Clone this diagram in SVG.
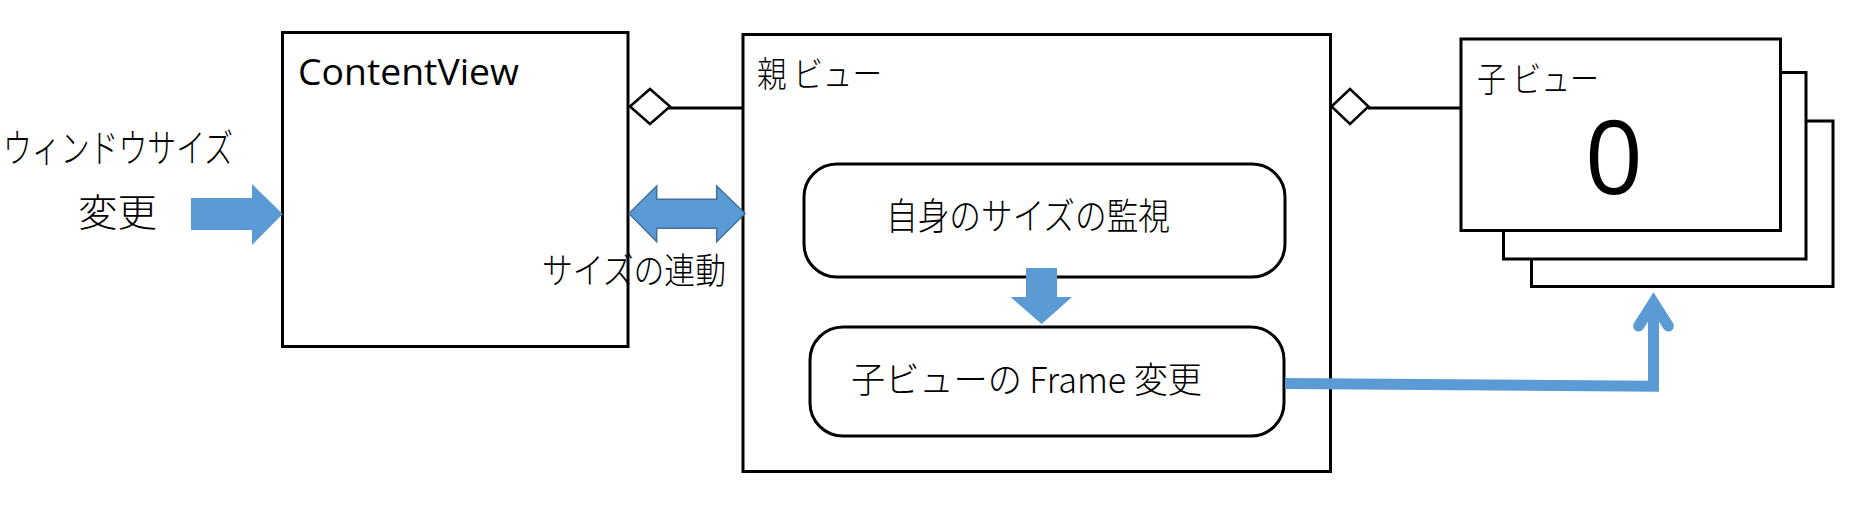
<svg xmlns="http://www.w3.org/2000/svg" width="1863" height="505" viewBox="0 0 1863 505">
<style>
.box{fill:#fff;stroke:#000;stroke-width:3}
.rbox{fill:#fff;stroke:#000;stroke-width:3}
.jp{font-family:"Noto Sans CJK JP","Noto Sans",sans-serif;font-weight:300;fill:#000}
.lat{font-family:"Open Sans","Noto Sans",sans-serif;fill:#000}
.blk{fill:#5B9BD5}
.line{fill:none;stroke:#000;stroke-width:3}
.dia{fill:#fff;stroke:#000;stroke-width:2.5}
</style>
<rect width="1863" height="505" fill="#fff"/>
<g id="label-window">
<text class="jp" x="3" y="162" font-size="39" textLength="230" lengthAdjust="spacingAndGlyphs">ウィンドウサイズ</text>
<text class="jp" x="78" y="226" font-size="38" textLength="79" lengthAdjust="spacingAndGlyphs">変更</text>
</g>
<g id="contentview">
<rect class="box" x="282.5" y="32.5" width="345.5" height="314"/>
<text class="lat" x="298" y="85" font-size="36" textLength="221" lengthAdjust="spacingAndGlyphs">ContentView</text>
</g>
<g id="parent">
<rect class="box" x="743" y="34.5" width="587.5" height="437"/>
<text class="jp" x="757" y="87" font-size="35" textLength="125" lengthAdjust="spacingAndGlyphs">親 ビュー</text>
</g>
<g id="monitor">
<rect class="rbox" x="804" y="164" width="481" height="113" rx="33" ry="33"/>
<text class="jp" x="886" y="230" font-size="37" textLength="284" lengthAdjust="spacingAndGlyphs">自身のサイズの監視</text>
</g>
<g id="frame-change">
<rect class="rbox" x="810" y="327" width="474" height="109" rx="33" ry="33"/>
<text class="jp" x="851" y="393" font-size="36" textLength="351" lengthAdjust="spacingAndGlyphs">子ビューの Frame 変更</text>
</g>
<g id="child">
<rect class="box" x="1531.5" y="121" width="301.5" height="165.5"/>
<rect class="box" x="1503.5" y="72.5" width="302.5" height="186.5"/>
<rect class="box" x="1461" y="39" width="319.5" height="191.5"/>
<text class="jp" x="1477" y="92" font-size="35" textLength="122" lengthAdjust="spacingAndGlyphs">子 ビュー</text>
<text class="lat" x="1614" y="194" font-size="102" text-anchor="middle">0</text>
</g>
<g id="connectors">
<line class="line" x1="669" y1="108" x2="743" y2="108"/>
<polygon class="dia" points="630,106.5 650,89 670,106.5 650,124"/>
<line class="line" x1="1368" y1="108" x2="1461" y2="108"/>
<polygon class="dia" points="1331.5,106.5 1350,89 1368.5,106.5 1350,124"/>
<polygon class="blk" points="191,198 252,198 252,184 282.7,214 252,245 252,230 191,230"/>
<polygon class="blk" stroke="#41719C" stroke-width="1.5" points="629,213.5 656.7,186 656.7,199.3 716.7,199.3 716.7,186 745,213.5 716.7,241.7 716.7,228.3 656.7,228.3 656.7,241.7"/>
<polygon class="blk" points="1026,268 1057,268 1057,297 1072,297 1041.6,324 1010.6,297 1026,297"/>
<path d="M1285,383.5 L1653.5,386.2 L1653.5,303" fill="none" stroke="#5B9BD5" stroke-width="11" stroke-linejoin="miter"/>
<path d="M1638.7,326 L1653.5,302.5 L1668.3,326" fill="none" stroke="#5B9BD5" stroke-width="11" stroke-linecap="round" stroke-linejoin="miter"/>
</g>
<g id="label-link">
<text class="jp" x="542" y="284" font-size="36" textLength="184" lengthAdjust="spacingAndGlyphs">サイズの連動</text>
</g>
</svg>
